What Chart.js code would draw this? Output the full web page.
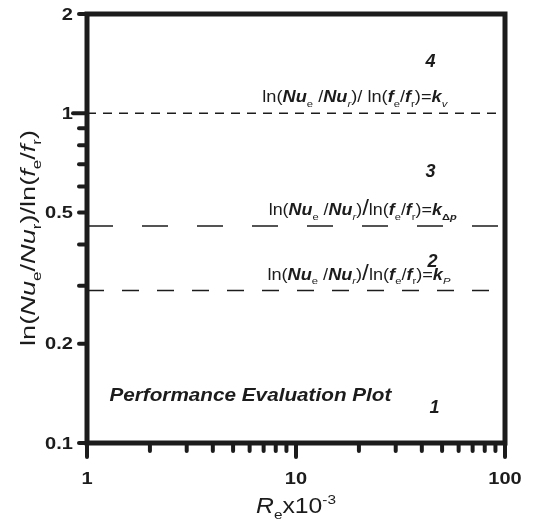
<!DOCTYPE html>
<html>
<head>
<meta charset="utf-8">
<script src="https://cdn.jsdelivr.net/npm/chart.js@4.4.1/dist/chart.umd.min.js"></script>
<style>
  html, body { margin: 0; padding: 0; background: #fff; }
  #wrap { width: 536px; height: 522px; position: relative; }
</style>
</head>
<body>
<div id="wrap"><canvas id="chart"></canvas></div>
<script>
const xRange = [1, 100];
const yRange = [0.1, 2];
const xMajorTicks = [1, 10, 100];
const xMinorTicks = [2, 3, 4, 5, 6, 7, 8, 9, 20, 30, 40, 50, 60, 70, 80, 90];
const yMajorTicks = [0.1, 0.2, 0.5, 1, 2];
const yMinorTicks = [0.3, 0.4, 0.6, 0.7, 0.8, 0.9];
const criterionNames = ["kv", "kdp", "kp"];
const criterionValues = [1.0, 0.455, 0.29];
const regionLabels = ["1", "2", "3", "4"];

const ink = "#1c1c1c";
const fam = "'Liberation Sans', Arial, sans-serif";

function partFont(p, size) {
  const s = p.sub || p.sup ? size * 0.62 : size * (p.scale || 1);
  return `${p.i ? "italic " : ""}${p.b ? "bold " : ""}${s}px ${fam}`;
}
function richWidth(ctx, parts, size) {
  let w = 0;
  parts.forEach((p) => { ctx.font = partFont(p, size); w += ctx.measureText(p.t).width; });
  return w;
}
// draw text pieces (italic / sub / sup), stretched to a given width
function richText(ctx, x, y, parts, size, width) {
  const natural = richWidth(ctx, parts, size);
  const sx = width ? width / natural : 1;
  ctx.save();
  ctx.translate(x, y);
  ctx.scale(sx, 1);
  let cx = 0;
  parts.forEach((p) => {
    ctx.font = partFont(p, size);
    const dy = p.sub ? size * 0.28 : p.sup ? -size * 0.42 : 0;
    ctx.fillText(p.t, cx, dy);
    cx += ctx.measureText(p.t).width;
  });
  ctx.restore();
}
function stretchText(ctx, text, x, y, sx) {
  ctx.save();
  ctx.translate(x, y);
  ctx.scale(sx, 1);
  ctx.fillText(text, 0, 0);
  ctx.restore();
}

const kSub = {
  kv: [{ t: "v", sub: true, i: true }],
  kdp: [{ t: "Δ", sub: true, b: true }, { t: "p", sub: true, i: true, b: true }],
  kp: [{ t: "P", sub: true, i: true }]
};
function kLabel(name) {
  return [
    { t: "ln(" },
    { t: "Nu", i: true, b: true },
    { t: "e", sub: true },
    { t: " /" },
    { t: "Nu", i: true, b: true },
    { t: "r", sub: true, i: true },
    { t: ")" },
    { t: "/", scale: name === "kv" ? 1 : 1.35 },
    { t: name === "kv" ? " ln(" : "ln(" },
    { t: "f", i: true, b: true },
    { t: "e", sub: true },
    { t: "/" },
    { t: "f", i: true, b: true },
    { t: "r", sub: true },
    { t: ")=" },
    { t: "k", i: true, b: true }
  ].concat(kSub[name]);
}
const kLabelPos = { kv: 6.9, kdp: 7.4, kp: 7.3 };
const kLabelWidth = { kv: 185, kdp: 188, kp: 183 };
const regionPos = { "1": [46, 0.128], "2": [45, 0.354], "3": [44, 0.663], "4": [44, 1.427] };

const axesPlugin = {
  id: "axesPlugin",
  afterDatasetsDraw(chart) {
    const { ctx, chartArea: a, scales: { x, y } } = chart;
    ctx.save();
    ctx.fillStyle = ink;
    ctx.strokeStyle = ink;
    ctx.lineCap = "round";

    // ticks
    ctx.lineWidth = 4;
    xMajorTicks.forEach((v) => {
      const px = x.getPixelForValue(v);
      ctx.beginPath(); ctx.moveTo(px, a.bottom); ctx.lineTo(px, a.bottom + 14); ctx.stroke();
    });
    xMinorTicks.forEach((v) => {
      const px = x.getPixelForValue(v);
      ctx.beginPath(); ctx.moveTo(px, a.bottom); ctx.lineTo(px, a.bottom + 8); ctx.stroke();
    });
    yMajorTicks.concat(yMinorTicks).forEach((v) => {
      const py = y.getPixelForValue(v);
      const len = v === 1 ? 14 : 8;
      ctx.beginPath(); ctx.moveTo(a.left, py); ctx.lineTo(a.left - len, py); ctx.stroke();
    });

    // frame
    ctx.lineWidth = 5;
    ctx.lineCap = "butt";
    ctx.strokeRect(a.left, a.top, a.right - a.left, a.bottom - a.top);

    // tick labels
    ctx.font = `bold 17px ${fam}`;
    ctx.textBaseline = "middle";
    ctx.textAlign = "left";
    const sx = 1.18;
    yMajorTicks.forEach((v) => {
      const t = String(v);
      const w = ctx.measureText(t).width * sx;
      stretchText(ctx, t, a.left - 14 - w, y.getPixelForValue(v) + 1, sx);
    });
    xMajorTicks.forEach((v) => {
      const t = String(v);
      const w = ctx.measureText(t).width * sx;
      stretchText(ctx, t, x.getPixelForValue(v) - w / 2, a.bottom + 36, sx);
    });

    // line labels
    ctx.textBaseline = "alphabetic";
    criterionNames.forEach((n, i) => {
      richText(ctx, x.getPixelForValue(kLabelPos[n]), y.getPixelForValue(criterionValues[i]) - 11,
        kLabel(n), 16, kLabelWidth[n]);
    });

    // region numbers
    ctx.font = `italic bold 18px ${fam}`;
    ctx.textAlign = "center";
    ctx.textBaseline = "middle";
    regionLabels.forEach((r) => {
      const [vx, vy] = regionPos[r];
      ctx.fillText(r, x.getPixelForValue(vx), y.getPixelForValue(vy));
    });

    ctx.textAlign = "left";
    ctx.font = `italic bold 19px ${fam}`;
    const title = "Performance Evaluation Plot";
    stretchText(ctx, title, x.getPixelForValue(1.28), y.getPixelForValue(0.1398) + 1,
      282 / ctx.measureText(title).width);

    // x title
    ctx.textBaseline = "alphabetic";
    const xt = [{ t: "R", i: true }, { t: "e", sub: true }, { t: "x10" }, { t: "-3", sup: true }];
    richText(ctx, (a.left + a.right) / 2 - 40, 513, xt, 22, 80);

    // y title
    const yt = [
      { t: "ln(" }, { t: "Nu", i: true }, { t: "e", sub: true }, { t: "/" },
      { t: "Nu", i: true }, { t: "r", sub: true }, { t: ")/ln(" },
      { t: "f", i: true }, { t: "e", sub: true }, { t: "/" },
      { t: "f", i: true }, { t: "r", sub: true }, { t: ")" }
    ];
    ctx.translate(35, 238);
    ctx.rotate(-Math.PI / 2);
    richText(ctx, -108, 0, yt, 21, 216);
    ctx.restore();
  }
};

const dashes = { kv: [9, 7], kdp: [26, 29], kp: [17, 18] };

new Chart(document.getElementById("chart"), {
  type: "line",
  data: {
    datasets: criterionNames.map((n, i) => ({
      label: n,
      data: [{ x: xRange[0], y: criterionValues[i] }, { x: xRange[1], y: criterionValues[i] }],
      borderColor: ink,
      borderWidth: 1.5,
      borderDash: dashes[n],
      pointRadius: 0,
      fill: false
    }))
  },
  options: {
    responsive: true,
    maintainAspectRatio: false,
    animation: false,
    layout: { padding: { left: 87, top: 14, right: 31, bottom: 79 } },
    plugins: { legend: { display: false }, tooltip: { enabled: false } },
    scales: {
      x: { type: "logarithmic", min: xRange[0], max: xRange[1], display: false },
      y: { type: "logarithmic", min: yRange[0], max: yRange[1], display: false }
    }
  },
  plugins: [axesPlugin]
});
</script>
</body>
</html>
